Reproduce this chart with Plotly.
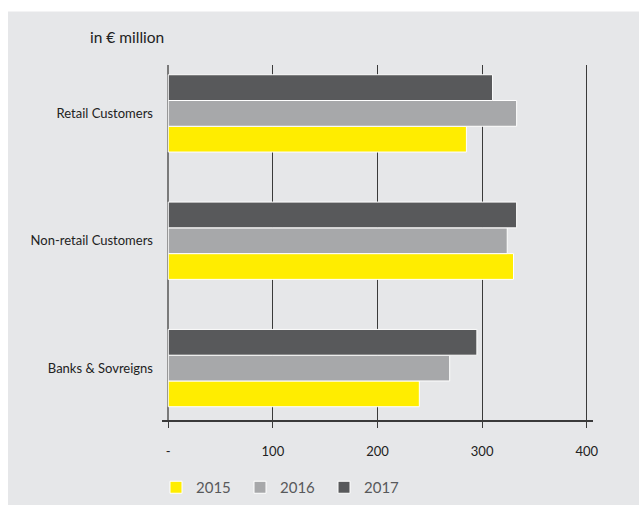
import plotly.graph_objects as go

categories = ["Banks & Sovreigns", "Non-retail Customers", "Retail Customers"]
years = ["2015", "2016", "2017"]
values_2015 = [240, 330, 285]
values_2016 = [269, 324, 333]
values_2017 = [295, 333, 310]
colors = ["#ffed00", "#a7a8aa", "#58595b"]
tick_vals = [0, 100, 200, 300, 400]
tick_text = ["-", "100", "200", "300", "400"]

FONT = "Lato"
W, H = 639, 505
ML, MR, MT, MB = 162, 46, 65, 82
pw = W - ML - MR
ph = H - MT - MB

fig = go.Figure()
for name, vals, col in zip(years, [values_2015, values_2016, values_2017], colors):
    fig.add_trace(go.Bar(
        y=categories, x=vals, name=name, orientation="h",
        marker=dict(color=col, line=dict(color="white", width=1)),
    ))

def px_x(p):
    return (p - ML) / pw

def px_y(p):
    return (H - MB - p) / ph

# white frame strips (top and left) over the grey page background
fig.add_shape(type="rect", xref="paper", yref="paper",
              x0=px_x(-5), x1=px_x(645), y0=px_y(11), y1=px_y(-5),
              fillcolor="white", line=dict(width=0), layer="below")
fig.add_shape(type="rect", xref="paper", yref="paper",
              x0=px_x(-5), x1=px_x(8), y0=px_y(520), y1=px_y(-5),
              fillcolor="white", line=dict(width=0), layer="below")

fig.add_annotation(text="in € million", xref="paper", yref="paper",
                   x=px_x(88), y=px_y(37), xanchor="left", yanchor="middle",
                   showarrow=False, font=dict(family=FONT, size=15.5, color="#222222"))

fig.update_layout(
    width=W, height=H,
    margin=dict(l=ML, r=MR, t=MT, b=MB),
    paper_bgcolor="#e6e7e9",
    plot_bgcolor="rgba(0,0,0,0)",
    barmode="group", bargap=0.393, bargroupgap=0,
    font=dict(family=FONT, color="#222222"),
    showlegend=True,
    legend=dict(orientation="h", xref="container", yref="container",
                x=156 / W, y=(H - 504) / H, xanchor="left", yanchor="bottom",
                font=dict(family=FONT, size=15, color="#58595b"),
                bgcolor="rgba(0,0,0,0)", itemwidth=30, entrywidth=39, traceorder="normal"),
    xaxis=dict(range=[-6, 406], tickvals=tick_vals, ticktext=tick_text,
               showgrid=True, gridcolor="#3a3a3a", gridwidth=1.3,
               zeroline=True, zerolinecolor="#7a7a7a", zerolinewidth=1.5,
               showline=True, linecolor="#3a3a3a", linewidth=1.5,
               ticks="outside", ticklen=7, tickcolor="#3a3a3a", tickwidth=1.3,
               ticklabelstandoff=12,
               tickfont=dict(family=FONT, size=13, color="#222222"), fixedrange=True),
    yaxis=dict(type="category", categoryorder="array", categoryarray=categories,
               range=[-0.405, 2.38], showgrid=False, zeroline=False, showline=False,
               ticks="", ticklabelstandoff=8, fixedrange=True,
               tickfont=dict(family=FONT, size=13, color="#222222")),
)

fig.write_html("out.html", config={"displayModeBar": False},
               post_script="document.body.style.margin='0';")
